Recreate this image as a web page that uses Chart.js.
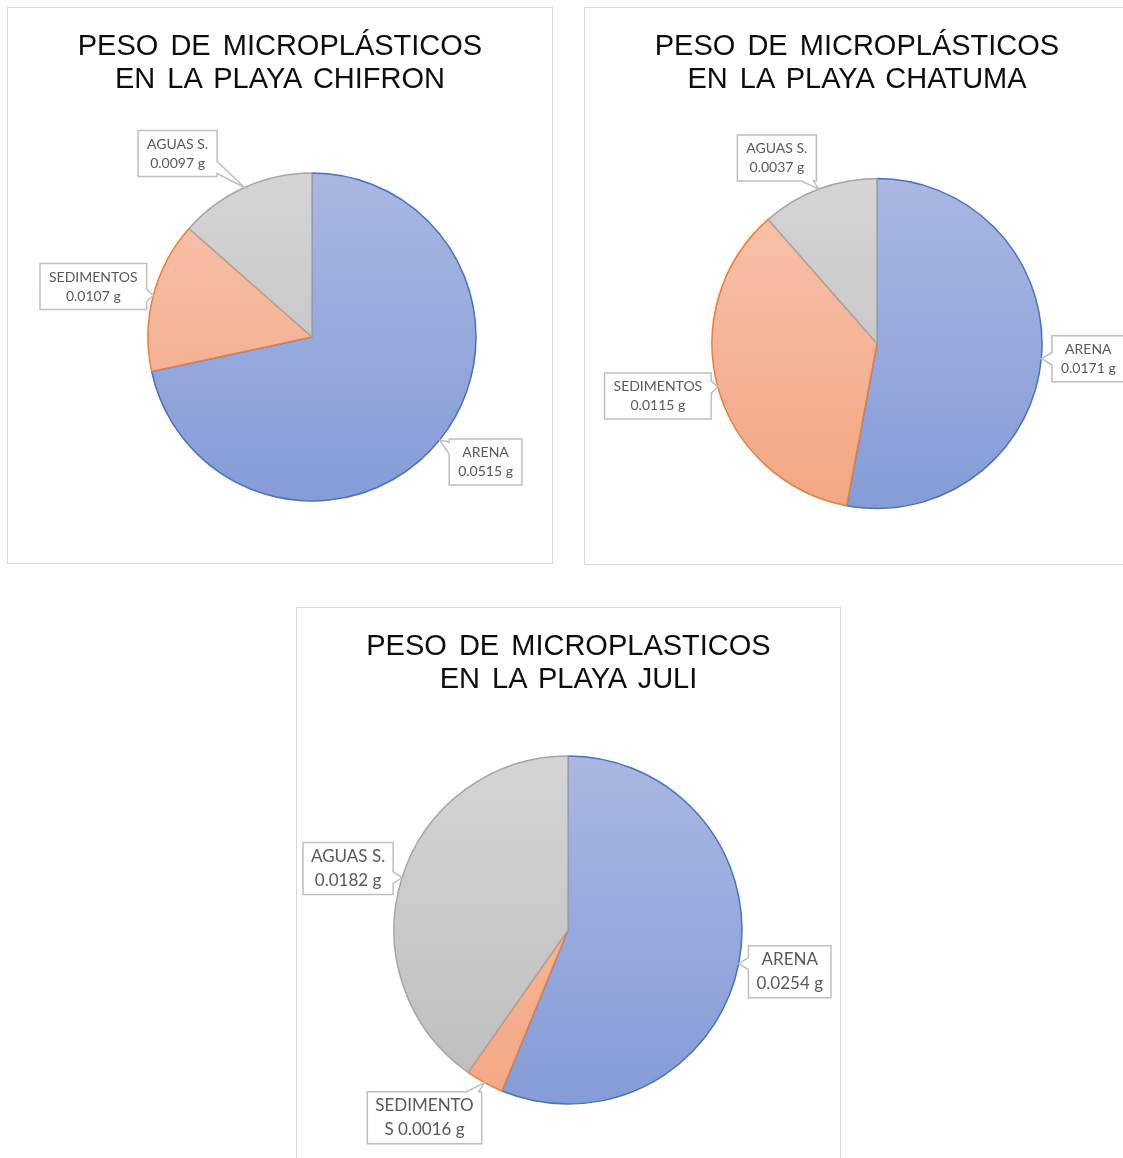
<!DOCTYPE html>
<html lang="es">
<head>
<meta charset="utf-8">
<title>Peso de microplásticos</title>
<script src="https://cdn.jsdelivr.net/npm/chart.js@4.4.1/dist/chart.umd.min.js"></script>
<style>
  html, body {
    margin: 0;
    padding: 0;
    background: #ffffff;
    overflow: hidden;
  }
  body {
    position: relative;
    width: 1123px;
    height: 1158px;
  }
  .caja {
    position: absolute;
    border: 1px solid #d9d9d9;
    background: #ffffff;
  }
  .caja canvas {
    position: absolute;
    left: 0;
    top: 0;
  }
  .titulo {
    position: absolute;
    left: 0;
    top: 21px;
    width: 100%;
    text-align: center;
    font-family: "Liberation Sans", Arial, sans-serif;
    font-size: 29px;
    line-height: 33px;
    word-spacing: 4px;
    color: #0d0d0d;
    z-index: 2;
  }
</style>
</head>
<body>

<div class="caja" style="left:7px; top:7px; width:544px; height:555px;">
  <div class="titulo" id="titChifron"></div>
  <canvas id="graficoChifron" width="544" height="555"></canvas>
</div>

<div class="caja" style="left:584px; top:7px; width:544px; height:556px;">
  <div class="titulo" id="titChatuma"></div>
  <canvas id="graficoChatuma" width="544" height="556"></canvas>
</div>

<div class="caja" style="left:296px; top:607px; width:543px; height:560px;">
  <div class="titulo" id="titJuli"></div>
  <canvas id="graficoJuli" width="543" height="560"></canvas>
</div>

<script>
// datos (g)
const categorias = ["ARENA", "SEDIMENTOS", "AGUAS S."];
const pesoChifron = [0.0515, 0.0107, 0.0097];
const pesoChatuma = [0.0171, 0.0115, 0.0037];
const pesoJuli = [0.0254, 0.0016, 0.0182];

const tituloChifron = ["PESO DE MICROPLÁSTICOS", "EN LA PLAYA CHIFRON"];
const tituloChatuma = ["PESO DE MICROPLÁSTICOS", "EN LA PLAYA CHATUMA"];
const tituloJuli = ["PESO DE MICROPLASTICOS", "EN LA PLAYA JULI"];

// colores (arriba / abajo del degradado, borde)
const colorArriba = ["#a9b7e1", "#f7c4ad", "#d5d5d5"];
const colorAbajo = ["#859cd7", "#f4a683", "#bdbdbd"];
const colorBorde = ["#4472c4", "#ed7d31", "#a5a5a5"];

const fuenteEtiqueta = "Lato, 'Noto Sans', sans-serif";

function degradado(contexto, i) {
  const chart = contexto.chart;
  const area = chart.chartArea;
  if (!area) return colorAbajo[i];
  const r = chart.options.radioPie;
  const cy = (area.top + area.bottom) / 2;
  const g = chart.ctx.createLinearGradient(0, cy - r, 0, cy + r);
  g.addColorStop(0, colorArriba[i]);
  g.addColorStop(1, colorAbajo[i]);
  return g;
}

function partirTexto(ctx, nombre, valor, tope) {
  let maxAncho = Math.max(ctx.measureText(nombre).width, ctx.measureText(valor).width);
  if (tope) maxAncho = Math.min(maxAncho, tope);
  const palabras = (nombre + " " + valor).split(" ");
  const lineas = [];
  let actual = "";
  palabras.forEach((pal) => {
    const prueba = actual ? actual + " " + pal : pal;
    if (ctx.measureText(prueba).width <= maxAncho + 0.5) {
      actual = prueba;
      return;
    }
    if (actual) {
      lineas.push(actual);
      actual = "";
    }
    // palabra mas ancha que la caja: se corta por letras como en Excel
    while (ctx.measureText(pal).width > maxAncho + 0.5 && pal.length > 1) {
      let n = pal.length - 1;
      while (n > 1 && ctx.measureText(pal.slice(0, n)).width > maxAncho + 0.5) n--;
      lineas.push(pal.slice(0, n));
      pal = pal.slice(n);
    }
    actual = pal;
  });
  if (actual) lineas.push(actual);
  return lineas;
}

function trazarCaja(ctx, b, p) {
  const fx = p.x > b.x2 ? p.x - b.x2 : (p.x < b.x1 ? b.x1 - p.x : 0);
  const fy = p.y > b.y2 ? p.y - b.y2 : (p.y < b.y1 ? b.y1 - p.y : 0);
  let lado;
  if (fx >= fy) lado = p.x > b.x2 ? "der" : "izq";
  else lado = p.y > b.y2 ? "abajo" : "arriba";

  const medio = 6;
  const limitar = (v, a, z) => Math.max(a + medio + 3, Math.min(z - medio - 3, v));

  ctx.beginPath();
  ctx.moveTo(b.x1, b.y1);
  if (lado === "arriba") {
    const c = limitar(p.x, b.x1, b.x2);
    ctx.lineTo(c - medio, b.y1);
    ctx.lineTo(p.x, p.y);
    ctx.lineTo(c + medio, b.y1);
  }
  ctx.lineTo(b.x2, b.y1);
  if (lado === "der") {
    const c = limitar(p.y, b.y1, b.y2);
    ctx.lineTo(b.x2, c - medio);
    ctx.lineTo(p.x, p.y);
    ctx.lineTo(b.x2, c + medio);
  }
  ctx.lineTo(b.x2, b.y2);
  if (lado === "abajo") {
    const c = limitar(p.x, b.x1, b.x2);
    ctx.lineTo(c + medio, b.y2);
    ctx.lineTo(p.x, p.y);
    ctx.lineTo(c - medio, b.y2);
  }
  ctx.lineTo(b.x1, b.y2);
  if (lado === "izq") {
    const c = limitar(p.y, b.y1, b.y2);
    ctx.lineTo(b.x1, c + medio);
    ctx.lineTo(p.x, p.y);
    ctx.lineTo(b.x1, c - medio);
  }
  ctx.closePath();
  ctx.fillStyle = "#ffffff";
  ctx.fill();
  ctx.lineWidth = 1.5;
  ctx.strokeStyle = "#bfbfbf";
  ctx.stroke();
}

const pluginEtiquetas = {
  id: "etiquetas",
  afterDatasetsDraw(chart, args, opts) {
    const ctx = chart.ctx;
    const meta = chart.getDatasetMeta(0);
    const datos = chart.data.datasets[0].data;
    ctx.save();
    ctx.font = opts.tamano + "px " + fuenteEtiqueta;
    meta.data.forEach((arco, i) => {
      const p = arco.getProps(["x", "y", "startAngle", "endAngle", "outerRadius"], true);
      const ang = (p.startAngle + p.endAngle) / 2;
      const ancla = {
        x: p.x + Math.cos(ang) * p.outerRadius,
        y: p.y + Math.sin(ang) * p.outerRadius,
      };
      const lineas = partirTexto(ctx, chart.data.labels[i], datos[i].toFixed(4) + " g", opts.tope);
      let ancho = 0;
      lineas.forEach((l) => { ancho = Math.max(ancho, ctx.measureText(l).width); });
      const w = ancho + 2 * opts.margenX;
      const h = lineas.length * opts.alto + 2 * opts.margenY;
      const cx = ancla.x + opts.desplaza[i][0];
      const cy = ancla.y + opts.desplaza[i][1];
      const b = { x1: cx - w / 2, y1: cy - h / 2, x2: cx + w / 2, y2: cy + h / 2 };
      trazarCaja(ctx, b, ancla);

      ctx.fillStyle = "#595959";
      ctx.textAlign = "center";
      ctx.textBaseline = "middle";
      lineas.forEach((l, k) => {
        ctx.fillText(l, cx, b.y1 + opts.margenY + opts.alto * (k + 0.5));
      });
    });
    ctx.restore();
  },
};

function gerarPie(idCanvas, idTitulo, titulo, pesos, conf) {
  document.getElementById(idTitulo).innerHTML = titulo.join("<br>");

  const dados = {
    labels: categorias,
    datasets: [
      {
        data: pesos,
        backgroundColor: (c) => degradado(c, c.dataIndex),
        borderColor: colorBorde,
        borderWidth: 1.5,
        radius: conf.radio,
      },
    ],
  };

  const config = {
    type: "pie",
    data: dados,
    options: {
      animation: false,
      responsive: false,
      events: [],
      radioPie: conf.radio,
      layout: { padding: conf.padding },
      plugins: {
        legend: { display: false },
        tooltip: { enabled: false },
        title: { display: false },
        etiquetas: {
          tamano: conf.tamano,
          alto: conf.alto,
          margenX: conf.margenX,
          margenY: conf.margenY,
          tope: conf.tope,
          desplaza: conf.desplaza,
        },
      },
    },
    plugins: [pluginEtiquetas],
  };

  return new Chart(document.getElementById(idCanvas), config);
}

gerarPie("graficoChifron", "titChifron", tituloChifron, pesoChifron, {
  radio: 164,
  padding: { left: 64, right: 0, top: 103, bottom: 0 },
  tamano: 14, alto: 19, margenX: 9, margenY: 4, tope: 0,
  desplaza: [[46, 22], [-60, -9], [-67, -34]],
});

gerarPie("graficoChatuma", "titChatuma", tituloChatuma, pesoChatuma, {
  radio: 165,
  padding: { left: 40, right: 0, top: 115, bottom: 0 },
  tamano: 14, alto: 19, margenX: 9, margenY: 4, tope: 0,
  desplaza: [[47, 0], [-60, 9], [-42, -31]],
});

gerarPie("graficoJuli", "titJuli", tituloJuli, pesoJuli, {
  radio: 174,
  padding: { left: 0, right: 1, top: 84, bottom: 0 },
  tamano: 17, alto: 24, margenX: 8, margenY: 2, tope: 100,
  desplaza: [[51, 8], [-60, 35], [-54, -9]],
});
</script>
</body>
</html>
